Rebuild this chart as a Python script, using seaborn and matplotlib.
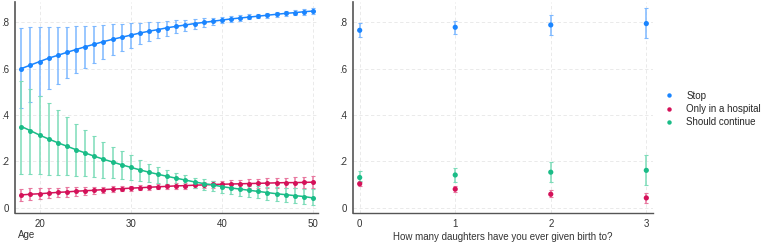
import numpy as np
import pandas as pd
import matplotlib
matplotlib.use("Agg")
import matplotlib.pyplot as plt
import seaborn as sns

# left panel: predicted probabilities by age
age = list(range(18, 51))
stop = [.600, .615, .630, .645, .657, .670, .682, .694, .705, .716, .726, .735, .744, .753, .761, .768,
        .776, .782, .788, .794, .799, .804, .809, .814, .818, .822, .826, .830, .834, .838, .841, .845, .848]
stop_hi = [.775, .778, .778, .778, .780, .780, .782, .783, .785, .787, .790, .792, .795, .797, .800, .802,
           .805, .808, .810, .813, .816, .820, .823, .826, .830, .834, .837, .841, .845, .849, .852, .857, .862]
stop_lo = [.428, .455, .483, .510, .535, .560, .580, .603, .623, .640, .658, .675, .690, .705, .718, .730,
           .742, .752, .762, .772, .780, .788, .795, .802, .807, .812, .816, .820, .823, .827, .830, .833, .835]
hosp = [.055, .058, .060, .063, .066, .068, .071, .073, .075, .078, .080, .082, .084, .086, .088, .090,
        .092, .094, .095, .097, .098, .100, .101, .102, .103, .104, .105, .106, .107, .108, .108, .109, .110]
hosp_hi = [.082, .083, .084, .085, .086, .087, .088, .089, .090, .091, .092, .093, .095, .097, .099, .101,
           .104, .106, .108, .110, .112, .114, .116, .118, .120, .122, .124, .126, .128, .130, .132, .134, .135]
hosp_lo = [.030, .033, .036, .040, .044, .048, .052, .056, .060, .064, .067, .070, .073, .075, .077, .079,
           .080, .081, .082, .083, .084, .085, .086, .086, .086, .086, .086, .086, .086, .086, .085, .085, .085]
cont = [.350, .332, .313, .296, .280, .265, .250, .236, .222, .209, .197, .185, .174, .163, .153, .144,
        .135, .127, .119, .111, .104, .098, .091, .085, .080, .075, .070, .065, .060, .056, .052, .048, .042]
cont_hi = [.548, .510, .483, .450, .420, .390, .362, .335, .310, .285, .263, .243, .225, .207, .190, .176,
           .162, .150, .140, .130, .122, .115, .108, .102, .098, .095, .092, .090, .088, .086, .084, .082, .080]
cont_lo = [.147, .145, .144, .143, .141, .140, .138, .136, .133, .130, .127, .123, .120, .116, .110, .105,
           .100, .095, .090, .083, .077, .070, .064, .058, .052, .046, .040, .034, .030, .026, .021, .016, .010]

# right panel: by number of daughters
daughters = [0, 1, 2, 3]
d_stop = [.765, .778, .788, .794]
d_stop_lo = [.735, .750, .745, .732]
d_stop_hi = [.795, .807, .832, .860]
d_hosp = [.103, .080, .058, .042]
d_hosp_lo = [.095, .068, .044, .022]
d_hosp_hi = [.112, .092, .075, .062]
d_cont = [.130, .141, .153, .161]
d_cont_lo = [.115, .112, .110, .097]
d_cont_hi = [.157, .170, .196, .226]

labels = ["Stop", "Only in a hospital", "Should continue"]
colors = ["#1A85FF", "#D41159", "#1ABC87"]
light = ["#7DB8FF", "#E8779F", "#7DDCB9"]

sns.set_style("white")
plt.rcParams["font.family"] = ["Liberation Sans", "DejaVu Sans"]
plt.rcParams["font.size"] = 7

fig = plt.figure(figsize=(7.62, 2.42), dpi=100)
ax1 = fig.add_axes([15 / 762, 29 / 242, 303 / 762, 211 / 242])
ax2 = fig.add_axes([353 / 762, 29 / 242, 300 / 762, 211 / 242])

left = pd.DataFrame({
    "age": age * 3,
    "p": stop + hosp + cont,
    "lo": stop_lo + hosp_lo + cont_lo,
    "hi": stop_hi + hosp_hi + cont_hi,
    "outcome": [labels[0]] * len(age) + [labels[1]] * len(age) + [labels[2]] * len(age),
})
right = pd.DataFrame({
    "d": daughters * 3,
    "p": d_stop + d_hosp + d_cont,
    "lo": d_stop_lo + d_hosp_lo + d_cont_lo,
    "hi": d_stop_hi + d_hosp_hi + d_cont_hi,
    "outcome": [labels[0]] * 4 + [labels[1]] * 4 + [labels[2]] * 4,
})

for ax, df, xcol in [(ax1, left, "age"), (ax2, right, "d")]:
    for lab, c, lc in zip(labels, colors, light):
        sub = df[df.outcome == lab]
        ax.errorbar(sub[xcol], sub.p, yerr=[sub.p - sub.lo, sub.hi - sub.p], fmt="none",
                    ecolor=lc, elinewidth=1.1, capsize=1.5, capthick=0.8, zorder=2)

sns.lineplot(data=left, x="age", y="p", hue="outcome", palette=colors, hue_order=labels,
             marker="o", markersize=3.6, markeredgewidth=0, linewidth=1.1, ax=ax1,
             legend=False, zorder=3)
sns.scatterplot(data=right, x="d", y="p", hue="outcome", palette=colors, hue_order=labels,
                s=14, linewidth=0, ax=ax2, zorder=3, legend=False)

yt = [0, .2, .4, .6, .8]
ytl = ["0", ".2", ".4", ".6", ".8"]
for ax in (ax1, ax2):
    ax.set_ylim(-0.023, 0.887)
    ax.set_yticks(yt)
    ax.set_yticklabels(ytl)
    ax.grid(True, color="#E6E6E6", linestyle=(0, (4, 3)), linewidth=0.6)
    ax.set_axisbelow(True)
    for s in ("top", "right"):
        ax.spines[s].set_visible(False)
    ax.spines["left"].set_color("#555555")
    ax.spines["bottom"].set_color("#555555")
    ax.spines["left"].set_linewidth(1.2)
    ax.spines["bottom"].set_linewidth(1.0)
    ax.tick_params(axis="both", length=3, width=0.8, color="#555555", labelcolor="#333333",
                   labelsize=7, pad=1.5)
    ax.set_ylabel("")

ax1.set_xlim(17.3, 50.55)
ax1.set_xticks([20, 30, 40, 50])
ax1.set_xlabel("")
ax1.text(0.01, -0.105, "Age", transform=ax1.transAxes, ha="left", va="center",
         fontsize=7, color="#333333")

ax2.set_xlim(-0.07, 3.07)
ax2.set_xticks(daughters)
ax2.set_xlabel("How many daughters have you ever given birth to?", fontsize=7,
               color="#333333", labelpad=2)

handles = [plt.Line2D([], [], marker="o", linestyle="none", color=c, markersize=3.2,
                      markeredgewidth=0) for c in colors]
fig.legend(handles, labels, loc="center left", bbox_to_anchor=(656 / 762, 1 - 109 / 242),
           frameon=False, fontsize=7, handletextpad=1.2, handlelength=1.2,
           labelspacing=0.35, borderpad=0.2)

fig.savefig("out.png", dpi=100)
